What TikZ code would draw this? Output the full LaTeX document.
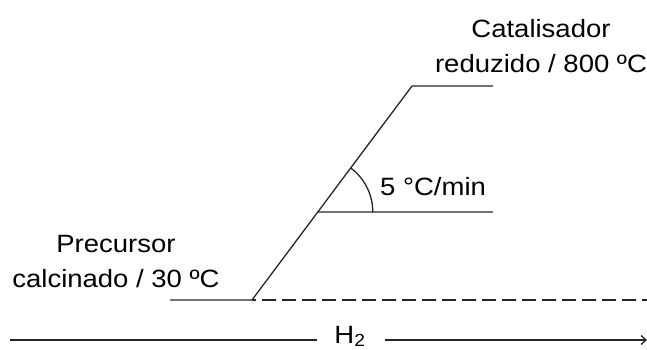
\documentclass[tikz,border=0pt]{standalone}
\usepackage{fontspec}
\newfontfamily\labelfont[FakeStretch=1.1]{Liberation Sans}
\usepackage{tikz}
\usetikzlibrary{arrows.meta}
\usetikzlibrary{angles, quotes, calc}

\begin{document}
\begin{tikzpicture}[x=1pt, y=1pt,
  line/.style={line width=1.3pt, black!85},
  txt/.style={font=\labelfont\fontsize{25}{35}\selectfont, inner sep=0pt, align=center}]
\useasboundingbox (0,0) rectangle (647,349);

\coordinate (lowstart) at (170,49);
\coordinate (rampbottom) at (252,49);
\coordinate (ramptop) at (412,263);
\coordinate (topend) at (493,263);
\coordinate (midstart) at ($(rampbottom)!0.4112!(ramptop)$);
\coordinate (midend) at (493,137);
\coordinate (dashend) at (647,49);
\coordinate (flowstart) at (10,9);
\coordinate (flowend) at (647,9);

\draw[line] (lowstart) -- (rampbottom) -- (ramptop) -- (topend);
\draw[line] (midstart) -- (midend);
\draw[line, dash pattern=on 14pt off 6pt, dash phase=-10pt] (rampbottom) -- (dashend);
\pic[line, draw, angle radius=55pt] {angle = midend--midstart--ramptop};

\node[txt, anchor=base west] (rate) at (380,154) {5 °C/min};
\node[txt, anchor=base] (precursor) at (116,62) {Precursor\\calcinado / 30 ºC};
\node[txt, anchor=base] (catalyst) at (541,277) {Catalisador\\reduzido / 800 ºC};

\node[txt, anchor=base] (gas) at (350,6) {H\textsubscript{2}};
\draw[line] (flowstart) -- ($(gas.west |- flowstart)+(-17,0)$);
\draw[line, -{Straight Barb[length=5pt, width=9pt]}] ($(gas.east |- flowend)+(19,0)$) -- (flowend);
\end{tikzpicture}
\end{document}
